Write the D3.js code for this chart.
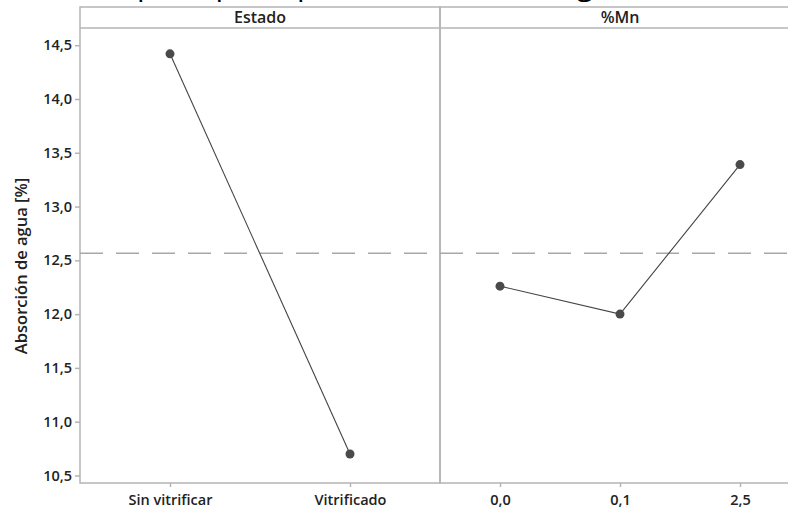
<!DOCTYPE html>
<html lang="es">
<head>
<meta charset="UTF-8">
<script src="https://d3js.org/d3.v7.min.js"></script>
<style>
  body { margin: 0; background: #fff; }
  svg { display: block; font-family: "Open Sans", "Noto Sans", sans-serif; }
</style>
</head>
<body>
<svg id="chart" width="788" height="512"></svg>
<script>
// data
const estadoCats = ["Sin vitrificar", "Vitrificado"];
const estadoMeans = [14.42, 10.70];
const mnCats = ["0,0", "0,1", "2,5"];
const mnMeans = [12.26, 12.00, 13.39];
const grandMean = 12.565;
const yTicks = [10.5, 11.0, 11.5, 12.0, 12.5, 13.0, 13.5, 14.0, 14.5];
const panelTitles = ["Estado", "%Mn"];

const svg = d3.select("svg#chart");
const left = 80, mid = 440, right = 800;
const headTop = 7, headBottom = 28, bottom = 483;
const frameColor = "#b4b4b4";
const fmt = d => d3.format(".1f")(d).replace(".", ",");

const y = d3.scaleLinear().domain([10.43, 14.66]).range([bottom, headBottom]);

// title, cropped by the top edge like in the original picture
svg.append("text")
    .attr("x", 628).attr("y", -5)
    .attr("text-anchor", "end")
    .style("font-size", "30px")
    .text("Gráfica de efectos principales para Absorción de agua");

// panels
const panels = [
    { x0: left, x1: mid, cats: estadoCats, vals: estadoMeans, title: panelTitles[0] },
    { x0: mid, x1: right, cats: mnCats, vals: mnMeans, title: panelTitles[1] }
];

panels.forEach(p => {
    const x = d3.scalePoint().domain(p.cats).range([p.x0, p.x1]).padding(0.5);

    // header + body frame
    svg.append("rect")
        .attr("x", p.x0).attr("y", headTop)
        .attr("width", p.x1 - p.x0).attr("height", bottom - headTop)
        .attr("fill", "none").attr("stroke", frameColor).attr("stroke-width", 1.5);
    svg.append("line")
        .attr("x1", p.x0).attr("x2", p.x1)
        .attr("y1", headBottom).attr("y2", headBottom)
        .attr("stroke", frameColor).attr("stroke-width", 1.5);
    svg.append("text")
        .attr("x", (p.x0 + p.x1) / 2)
        .attr("y", 23)
        .attr("text-anchor", "middle")
        .style("font-size", "16px").style("font-weight", 600)
        .attr("fill", "#222")
        .text(p.title);

    // grand mean dashed line
    svg.append("line")
        .attr("x1", p.x0).attr("x2", p.x1)
        .attr("y1", y(grandMean)).attr("y2", y(grandMean))
        .attr("stroke", "#a8a8a8").attr("stroke-width", 1.5)
        .attr("stroke-dasharray", "23,13");

    // bottom axis
    const ax = svg.append("g")
        .attr("transform", `translate(0,${bottom})`)
        .call(d3.axisBottom(x).tickSize(4).tickSizeOuter(0));
    ax.select(".domain").remove();
    ax.selectAll(".tick line").attr("stroke", frameColor).attr("stroke-width", 1.5);
    ax.selectAll(".tick text")
        .attr("y", 12)
        .style("font-family", "'Open Sans', sans-serif")
        .style("font-size", "14.5px").style("font-weight", 600)
        .attr("fill", "#222");

    // means
    const pts = p.cats.map((c, i) => [x(c), y(p.vals[i])]);
    svg.append("path")
        .attr("d", d3.line()(pts))
        .attr("fill", "none").attr("stroke", "#444").attr("stroke-width", 1.1);
    svg.selectAll(null).data(pts).join("circle")
        .attr("cx", d => d[0]).attr("cy", d => d[1])
        .attr("r", 4.5).attr("fill", "#4a4a4a");
});

// left axis
const ay = svg.append("g")
    .attr("transform", `translate(${left},0)`)
    .call(d3.axisLeft(y).tickValues(yTicks).tickFormat(fmt).tickSize(5).tickSizeOuter(0));
ay.select(".domain").remove();
ay.selectAll(".tick line").attr("stroke", frameColor).attr("stroke-width", 1.5);
ay.selectAll(".tick text")
    .attr("x", -8)
    .style("font-family", "'Open Sans', sans-serif")
    .style("font-size", "14.5px").style("font-weight", 600)
    .attr("fill", "#222");

svg.append("text")
    .attr("transform", "translate(27,266) rotate(-90)")
    .attr("text-anchor", "middle")
    .style("font-size", "16.5px").style("font-weight", 600)
    .attr("fill", "#222")
    .text("Absorción de agua [%]");
</script>
</body>
</html>
